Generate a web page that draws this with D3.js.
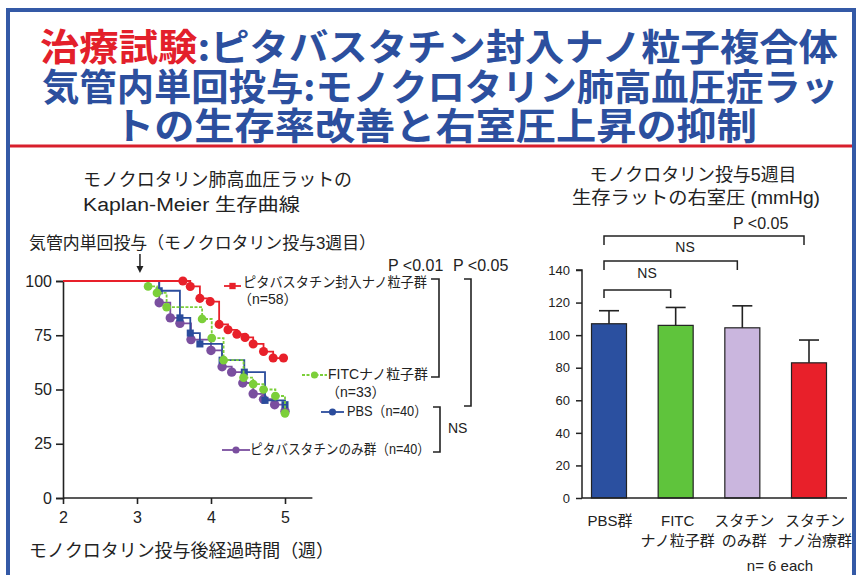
<!DOCTYPE html>
<html>
<head>
<meta charset="utf-8">
<script src="https://cdn.jsdelivr.net/npm/d3@7"></script>
<style>
  html, body { margin: 0; padding: 0; background: #fff; }
  svg { display: block; }
  text { font-family: "Liberation Sans", "Noto Sans CJK JP", sans-serif; fill: #222; }
  .jp { font-family: "Noto Sans CJK JP", sans-serif; }
</style>
</head>
<body>
<svg id="chart" width="863" height="575"></svg>
<script>
// ---- Kaplan-Meier survival (% surviving) by week after monocrotaline ----
const kmGroups = ["ピタバスタチン封入ナノ粒子群", "FITCナノ粒子群", "PBS", "ピタバスタチンのみ群"];
const kmN = [58, 33, 40, 40];
const kmWeekTicks = [2, 3, 4, 5];
const kmPctTicks = [0, 25, 50, 75, 100];

const nanoStatinSurvival = [[2,100],[3.62,100],[3.72,97.5],[3.85,92],[3.99,90.5],[4.11,80],[4.23,77.5],
  [4.35,75.5],[4.46,74],[4.57,71],[4.71,67.5],[4.84,64.5],[4.98,64.5]];
const fitcSurvival = [[2,100],[3.15,97.5],[3.27,94.5],[3.4,88],[3.88,82.5],[4.01,73.7],[4.17,63.5],
  [4.44,55.5],[4.57,52.5],[4.71,50],[4.87,47],[5,39]];
const pbsSurvival = [[2,100],[3.3,95.5],[3.58,83],[3.72,76],[3.85,71],[4.15,63.5],[4.45,58],[4.73,45],[5,43]];
const statinOnlySurvival = [[2,100],[3.3,90],[3.45,83],[3.58,80.5],[3.73,73],[4.0,68],[4.15,60.5],
  [4.28,58],[4.43,53],[4.57,48],[4.71,45.5],[4.86,43],[5,40]];

// ---- Right ventricular pressure at week 5 (mmHg, mean + SD) ----
const rvCategories = ["PBS群", "FITC\nナノ粒子群", "スタチン\nのみ群", "スタチン\nナノ治療群"];
const rvMean = [107, 106, 104.5, 83];
const rvSD = [8, 11, 13.5, 14];
const rvTicks = [0, 20, 40, 60, 80, 100, 120, 140];

const svg = d3.select("#chart");
const BLUE = "#2c4f9e", RED = "#e3202b";

// ---- frame and headline ----
svg.append("path").attr("d", "M8,575 V10 H854 V575")
  .attr("fill", "none").attr("stroke", "#3459a6").attr("stroke-width", 4);
svg.append("line").attr("x1", 10).attr("x2", 852).attr("y1", 146).attr("y2", 146)
  .attr("stroke", "#d81f2c").attr("stroke-width", 3);

const titleLines = [
  {parts: [["治療試験", RED], [":ピタバスタチン封入ナノ粒子複合体", BLUE]], x: 40, y: 45, w: 798},
  {parts: [["気管内単回投与:モノクロタリン肺高血圧症ラッ", BLUE]], x: 42, y: 85, w: 796},
  {parts: [["トの生存率改善と右室圧上昇の抑制", BLUE]], x: 114, y: 124, w: 643}
];
titleLines.forEach(l => {
  const t = svg.append("text").attr("class", "jp")
    .attr("x", l.x).attr("y", l.y).attr("dominant-baseline", "central")
    .attr("font-size", 37).attr("font-weight", 700)
    .attr("textLength", l.w).attr("lengthAdjust", "spacingAndGlyphs");
  l.parts.forEach(p => t.append("tspan").text(p[0]).style("fill", p[1]));
});

function label(txt, x, y, size, opts = {}) {
  const t = svg.append("text").text(txt).attr("x", x).attr("y", y)
    .attr("dominant-baseline", "central").attr("font-size", size)
    .attr("text-anchor", opts.anchor || "start");
  if (opts.w) t.attr("textLength", opts.w).attr("lengthAdjust", "spacingAndGlyphs");
  return t;
}

// ---- Kaplan-Meier panel ----
label("モノクロタリン肺高血圧ラットの", 83, 180, 18, {w: 269});
label("Kaplan-Meier 生存曲線", 83, 205, 18, {w: 217});
label("気管内単回投与（モノクロタリン投与3週目）", 29, 243, 17, {w: 347});

const kx = d3.scaleLinear().domain([2, 5]).range([63, 285]);
const ky = d3.scaleLinear().domain([0, 100]).range([498, 281]);

// dosing arrow at week 3
svg.append("line").attr("x1", kx(3.04)).attr("x2", kx(3.04)).attr("y1", 254).attr("y2", 270)
  .attr("stroke", "#222").attr("stroke-width", 1.5);
svg.append("path").attr("d", `M${kx(3.04)-3.5},266 L${kx(3.04)+3.5},266 L${kx(3.04)},273 Z`).attr("fill", "#222");

const kyAxis = svg.append("g").attr("transform", `translate(${kx(2)},0)`)
  .call(d3.axisLeft(ky).tickValues(kmPctTicks).tickSize(7).tickPadding(4));
kyAxis.selectAll("text").attr("font-size", 16).style("fill", "#222");
kyAxis.selectAll("line, path").attr("stroke", "#222").attr("stroke-width", 1.6);

const kxAxis = svg.append("g").attr("transform", `translate(0,${ky(0)})`)
  .call(d3.axisBottom(kx).tickValues(kmWeekTicks).tickFormat(d3.format("d")).tickSize(6).tickPadding(8));
kxAxis.select(".domain").remove();
kxAxis.selectAll("text").attr("font-size", 16).style("fill", "#222");
kxAxis.selectAll("line").attr("stroke", "#222").attr("stroke-width", 1.6);
svg.append("line").attr("x1", kx(2)).attr("x2", kx(5.37)).attr("y1", ky(0)).attr("y2", ky(0))
  .attr("stroke", "#222").attr("stroke-width", 1.6);

label("モノクロタリン投与後経過時間（週）", 29, 551, 18, {w: 305});

const kmSeries = [
  {data: statinOnlySurvival, color: "#7a4f9f", dash: null, sym: d3.symbolCircle, size: 70},
  {data: pbsSurvival, color: "#2b4c9c", dash: null, sym: d3.symbolSquare, size: 50},
  {data: fitcSurvival, color: "#7ccf3a", dash: "3,1.5", sym: d3.symbolCircle, size: 60},
  {data: nanoStatinSurvival, color: "#e8202a", dash: null, sym: d3.symbolCircle, size: 65}
];
const stepLine = d3.line().x(d => kx(d[0])).y(d => ky(d[1])).curve(d3.curveStepAfter);
kmSeries.forEach(s => {
  svg.append("path").datum(s.data).attr("d", stepLine)
    .attr("fill", "none").attr("stroke", s.color).attr("stroke-width", 1.8)
    .attr("stroke-dasharray", s.dash);
  svg.selectAll(null).data(s.data.slice(1)).enter().append("path")
    .attr("d", d3.symbol().type(s.sym).size(s.size))
    .attr("transform", d => `translate(${kx(d[0])},${ky(d[1])})`)
    .attr("fill", s.color);
});

// legend entries beside the curves
const legend = [
  {i: 0, color: "#e8202a", dash: null, sym: d3.symbolSquare, x1: 224, x2: 241, ly: 286,
   text: `${kmGroups[0]}`, tx: 243, ty: 282, tw: 184, sub: `（n=${kmN[0]}）`, sx: 238, sy: 299},
  {i: 1, color: "#7ccf3a", dash: "3,1.5", sym: d3.symbolCircle, x1: 302, x2: 327, ly: 375,
   text: `${kmGroups[1]}`, tx: 328, ty: 374, tw: 100, sub: `（n=${kmN[1]}）`, sx: 326, sy: 392},
  {i: 2, color: "#2b4c9c", dash: null, sym: d3.symbolCircle, x1: 321, x2: 344, ly: 412,
   text: `${kmGroups[2]}（n=${kmN[2]}）`, tx: 347, ty: 411, tw: 80},
  {i: 3, color: "#7a4f9f", dash: null, sym: d3.symbolCircle, x1: 222, x2: 250, ly: 450,
   text: `${kmGroups[3]}（n=${kmN[3]}）`, tx: 250, ty: 449, tw: 180}
];
legend.forEach(l => {
  svg.append("line").attr("x1", l.x1).attr("x2", l.x2).attr("y1", l.ly).attr("y2", l.ly)
    .attr("stroke", l.color).attr("stroke-width", 1.8).attr("stroke-dasharray", l.dash);
  svg.append("path").attr("d", d3.symbol().type(l.sym).size(40)())
    .attr("transform", `translate(${(l.x1 + l.x2) / 2},${l.ly})`).attr("fill", l.color);
  label(l.text, l.tx, l.ty, 14, {w: l.tw});
  if (l.sub) label(l.sub, l.sx, l.sy, 14);
});

function bracket(x, y1, y2, armLeft) {
  svg.append("path").attr("d", `M${x - armLeft},${y1} H${x} V${y2} H${x - armLeft}`)
    .attr("fill", "none").attr("stroke", "#222").attr("stroke-width", 1.6);
}
bracket(439, 279, 377, 8);
bracket(471, 279, 406, 7);
bracket(440, 407, 452, 7);
label("P <0.01", 388, 265, 16);
label("P <0.05", 453, 265, 16);
label("NS", 448, 428, 14);

// ---- Right ventricular pressure panel ----
label("モノクロタリン投与5週目", 693, 175, 18, {anchor: "middle", w: 207});
label("生存ラットの右室圧 (mmHg)", 696, 198, 18, {anchor: "middle", w: 248});

const bx = d3.scalePoint().domain(rvCategories).range([609, 809]);
const by = d3.scaleLinear().domain([0, 140]).range([498, 270]);
const barW = 35;
const rvColors = ["#2b50a0", "#5fc43c", "#cab6de", "#e8202a"];

const byAxis = svg.append("g").attr("transform", "translate(582,0)")
  .call(d3.axisLeft(by).tickValues(rvTicks).tickSize(6).tickPadding(6));
byAxis.select(".domain").attr("d", `M-6,${by(140)} H0 V${by(0)}`);
byAxis.selectAll("text").attr("font-size", 13).style("fill", "#222");
byAxis.selectAll("line, path").attr("stroke", "#222").attr("stroke-width", 1.5);

rvCategories.forEach((c, i) => {
  const cx = bx(c);
  svg.append("rect").attr("x", cx - barW / 2).attr("width", barW)
    .attr("y", by(rvMean[i])).attr("height", by(0) - by(rvMean[i]))
    .attr("fill", rvColors[i]).attr("stroke", "#222").attr("stroke-width", 1.2);
  svg.append("line").attr("x1", cx).attr("x2", cx)
    .attr("y1", by(rvMean[i])).attr("y2", by(rvMean[i] + rvSD[i]))
    .attr("stroke", "#222").attr("stroke-width", 1.6);
  svg.append("line").attr("x1", cx - 10).attr("x2", cx + 10)
    .attr("y1", by(rvMean[i] + rvSD[i])).attr("y2", by(rvMean[i] + rvSD[i]))
    .attr("stroke", "#222").attr("stroke-width", 1.6);
  c.split("\n").forEach((ln, k) => {
    label(ln, cx + (i === 3 ? 6 : i === 0 ? 1 : 2), 520 + k * 20, 15, {anchor: "middle"});
  });
});
svg.append("line").attr("x1", 582).attr("x2", 847).attr("y1", by(0)).attr("y2", by(0))
  .attr("stroke", "#222").attr("stroke-width", 1.6);

function sigBar(a, b, y, drop) {
  const xa = bx(rvCategories[a]) - 5, xb = bx(rvCategories[b]) - 5;
  svg.append("path").attr("d", `M${xa},${y + drop} V${y} H${xb} V${y + drop}`)
    .attr("fill", "none").attr("stroke", "#222").attr("stroke-width", 1.5);
}
sigBar(0, 3, 236, 9);
sigBar(0, 2, 261, 9);
sigBar(0, 1, 290, 8);
label("P <0.05", 733, 223, 16);
label("NS", 685, 247, 14, {anchor: "middle"});
label("NS", 647, 273, 14, {anchor: "middle"});

label("n= 6 each", 780, 565, 15, {anchor: "middle"});
</script>
</body>
</html>
